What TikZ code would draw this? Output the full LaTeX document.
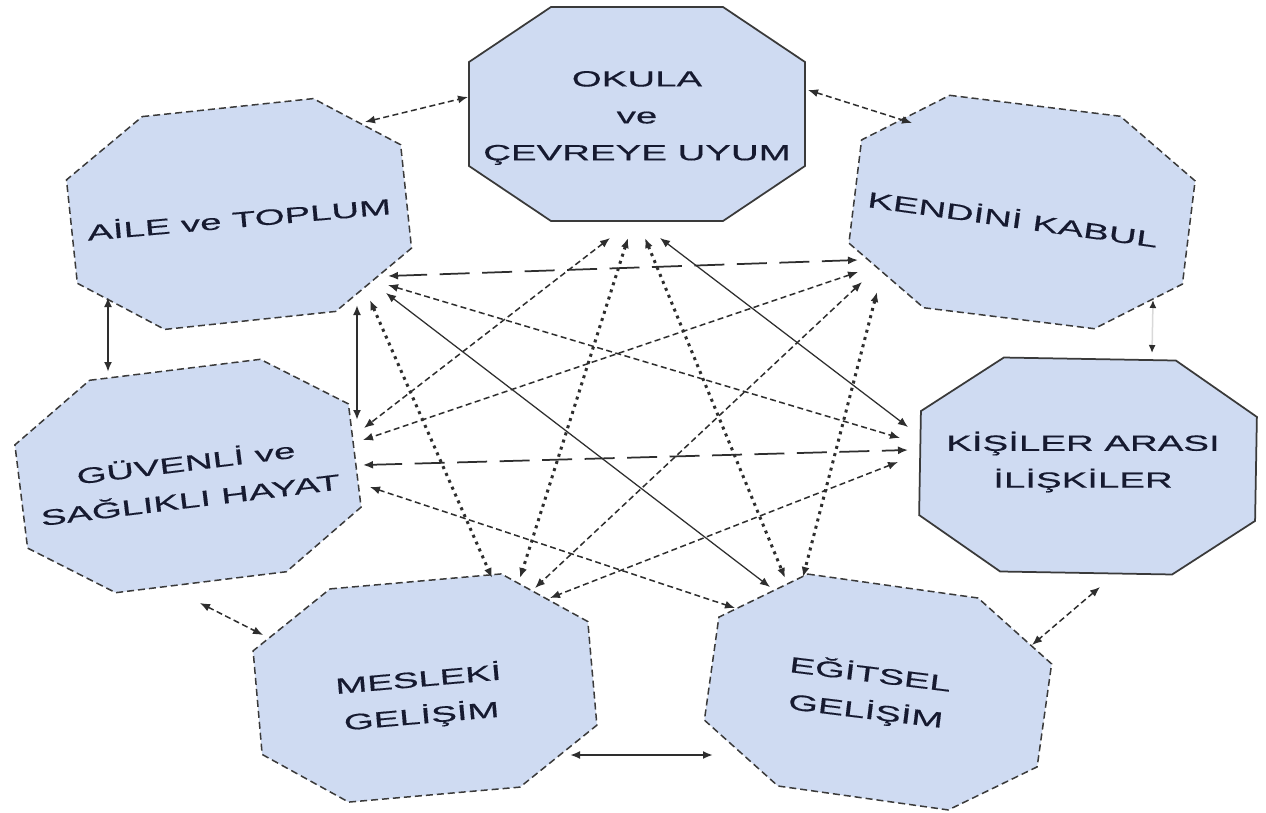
\documentclass[tikz,border=0pt]{standalone}
\usepackage{fontspec}
\usepackage{tikz}
\usetikzlibrary{arrows.meta,calc}
\newfontfamily\octfont{Liberation Sans}[FakeStretch=1.75,FakeBold=0.5]
\definecolor{octfill}{HTML}{CFDBF2}
\definecolor{octline}{HTML}{3A3A3A}
\definecolor{octtext}{HTML}{161A30}
\definecolor{linkgray}{HTML}{2E2E2E}
% octagon outline: centre, rotation, style
\newcommand{\octshape}[3]{%
  \draw[#3, shift={#1}, rotate=#2] (-86,-107) -- (86,-107) -- (168,-52) -- (168,52)
    -- (86,107) -- (-86,107) -- (-168,52) -- (-168,-52) -- cycle;}

\begin{document}
\begin{tikzpicture}[x=0.2mm, y=-0.2mm,
    octdash/.style={draw=octline, fill=octfill, line width=0.3mm, dash pattern=on 1.4mm off 0.8mm},
    octsolid/.style={draw=octline, fill=octfill, line width=0.35mm},
    lbl/.style={font=\octfont\fontsize{12.5}{21}\selectfont, text=octtext, align=center},
    both/.style={{Latex[length=2mm,width=1.6mm]}-{Latex[length=2mm,width=1.6mm]}, draw=linkgray},
    dashlink/.style={both, line width=0.3mm, dash pattern=on 1.2mm off 0.7mm},
    dotlink/.style={both, line width=0.6mm, dash pattern=on 0.6mm off 0.9mm},
    longlink/.style={both, line width=0.35mm, dash pattern=on 6mm off 2.5mm},
    plainlink/.style={both, line width=0.25mm},
    boldlink/.style={both, line width=0.55mm},
    faintlink/.style={{Latex[length=1.6mm,width=1.4mm,color=linkgray]}-{Latex[length=1.6mm,width=1.4mm,color=linkgray]}, draw=black!15, line width=0.3mm}
]
    \useasboundingbox[fill=white] (0,0) rectangle (1266,812);

    % Octagons
    \octshape{(637,114)}{0}{octsolid}
    \octshape{(239,214)}{6}{octdash}
    \octshape{(1022,212)}{-7}{octdash}
    \octshape{(188,476)}{7}{octdash}
    \octshape{(1088,466)}{-1}{octsolid}
    \octshape{(425,688)}{5}{octdash}
    \octshape{(878,692)}{-8}{octdash}

    % Labels
    \node[lbl] (okula) at (637,118) {OKULA\\ve\\ÇEVREYE UYUM};
    \node[lbl, rotate=5] (aile) at (239,218) {AİLE ve TOPLUM};
    \node[lbl, rotate=-8] (kendini) at (1013,218) {KENDİNİ KABUL};
    \node[lbl, rotate=7] (guvenli) at (188,480) {GÜVENLİ ve\\SAĞLIKLI HAYAT};
    \node[lbl] (kisiler) at (1083,462) {KİŞİLER ARASI\\İLİŞKİLER};
    \node[lbl, rotate=5] (meslek) at (420,698) {MESLEKİ\\GELİŞİM};
    \node[lbl, rotate=-7] (egitsel) at (868,693) {EĞİTSEL\\GELİŞİM};

    % Link ends round OKULA
    \coordinate (OA) at (468,97);
    \coordinate (OK) at (808,90);
    \coordinate (OG) at (610,238);
    \coordinate (OM) at (628,238);
    \coordinate (OE) at (645,238);
    \coordinate (OI) at (660,238);
    % round AILE
    \coordinate (AO) at (365,122);
    \coordinate (AK) at (388,276);
    \coordinate (AI) at (388,285);
    \coordinate (AE) at (386,293);
    \coordinate (AM) at (370,300);
    \coordinate (AG) at (357,305);
    \coordinate (AGl) at (108,297);
    % round KENDINI
    \coordinate (KO) at (912,123);
    \coordinate (KA) at (858,260);
    \coordinate (KG) at (858,272);
    \coordinate (KM) at (862,282);
    \coordinate (KE) at (877,292);
    \coordinate (KI) at (1153,300);
    % round GUVENLI
    \coordinate (GA) at (357,420);
    \coordinate (GAl) at (108,372);
    \coordinate (GO) at (364,428);
    \coordinate (GK) at (363,440);
    \coordinate (GI) at (363,465);
    \coordinate (GE) at (370,487);
    \coordinate (GM) at (200,603);
    % round KISILER
    \coordinate (IO) at (908,427);
    \coordinate (IA) at (900,438);
    \coordinate (IG) at (908,450);
    \coordinate (IM) at (898,462);
    \coordinate (IK) at (1152,353);
    \coordinate (IE) at (1100,587);
    % round MESLEKI
    \coordinate (MG) at (263,635);
    \coordinate (MA) at (492,578);
    \coordinate (MO) at (520,578);
    \coordinate (MK) at (535,588);
    \coordinate (MI) at (550,598);
    \coordinate (ME) at (570,755);
    % round EGITSEL
    \coordinate (EM) at (713,755);
    \coordinate (EG) at (735,608);
    \coordinate (EA) at (770,587);
    \coordinate (EO) at (785,578);
    \coordinate (EK) at (803,577);
    \coordinate (EI) at (1032,645);

    % Ring links
    \draw[dashlink] (AO) -- (OA);
    \draw[dashlink] (OK) -- (KO);
    \draw[faintlink] (KI) -- (IK);
    \draw[dashlink] (IE) -- (EI);
    \draw[boldlink] (ME) -- (EM);
    \draw[dashlink] (GM) -- (MG);
    \draw[boldlink] (AGl) -- (GAl);
    \draw[boldlink] (AG) -- (GA);

    % Cross links
    \draw[dashlink] (OG) -- (GO);
    \draw[dotlink] (OM) -- (MO);
    \draw[dotlink] (OE) -- (EO);
    \draw[plainlink] (OI) -- (IO);
    \draw[longlink] (AK) -- (KA);
    \draw[dashlink] (AI) -- (IA);
    \draw[plainlink] (AE) -- (EA);
    \draw[dotlink] (AM) -- (MA);
    \draw[dashlink] (KG) -- (GK);
    \draw[dashlink] (KM) -- (MK);
    \draw[dotlink] (KE) -- (EK);
    \draw[longlink] (GI) -- (IG);
    \draw[dashlink] (GE) -- (EG);
    \draw[dashlink] (IM) -- (MI);

\end{tikzpicture}
\end{document}
